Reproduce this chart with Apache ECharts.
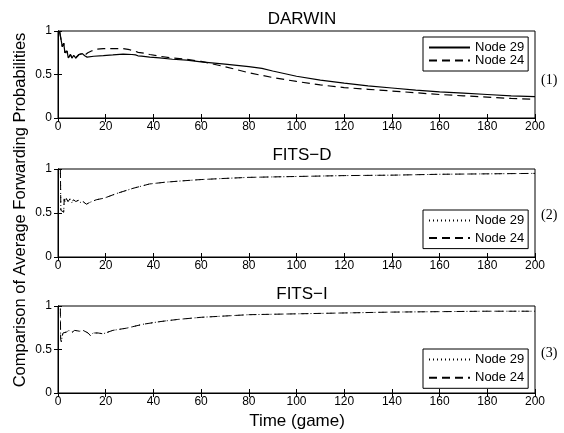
<!DOCTYPE html>
<html>
<head>
<meta charset="utf-8">
<script src="https://cdn.jsdelivr.net/npm/echarts@6/dist/echarts.min.js"></script>
<style>
  html, body { margin: 0; padding: 0; background: #fff; }
  #main { width: 564px; height: 433px; }
</style>
</head>
<body>
<div id="main"></div>
<script>
// values, [time, probability]
var darwinNode29 = [[0.7,0.99],[1.8,0.82],[2.4,0.86],[2.9,0.75],[3.8,0.77],[4.3,0.69],[5.2,0.73],[5.9,0.69],[6.6,0.72],[7.4,0.69],[8.8,0.73],[10.2,0.74],[11.2,0.715],[12.2,0.70],[15,0.71],[19,0.716],[23,0.725],[27.3,0.735],[31,0.73],[32.5,0.725],[33.5,0.715],[35,0.712],[38.5,0.70],[42.6,0.69],[48,0.675],[54,0.665],[60,0.645],[70,0.62],[80,0.59],[85.5,0.57],[90,0.54],[100,0.48],[110,0.435],[120,0.40],[130,0.37],[140,0.345],[150,0.32],[160,0.30],[170,0.285],[180,0.27],[190,0.255],[200,0.245]];
var darwinNode24 = [[0.7,0.99],[1.8,0.82],[2.4,0.86],[2.9,0.75],[3.8,0.77],[4.3,0.69],[5.2,0.73],[5.9,0.69],[6.6,0.72],[7.4,0.69],[8.8,0.73],[10.2,0.74],[11.2,0.72],[12.5,0.75],[14,0.77],[16,0.79],[19,0.797],[23,0.797],[27.3,0.797],[30,0.785],[32,0.77],[33.6,0.755],[36,0.745],[38.5,0.73],[42.6,0.71],[48,0.69],[54,0.675],[60,0.65],[70,0.59],[80,0.52],[90,0.465],[100,0.42],[110,0.38],[120,0.35],[130,0.33],[140,0.31],[150,0.29],[160,0.27],[170,0.255],[180,0.24],[190,0.225],[200,0.215]];
var fitsDNode29 = [[1,1.0],[1.2,0.53],[1.5,0.51],[2.4,0.51],[2.6,0.66],[3,0.62],[3.5,0.665],[4.2,0.63],[5,0.66],[5.8,0.62],[6.5,0.65],[7.5,0.63],[8.5,0.645],[9.3,0.62],[10.5,0.63],[11.9,0.60],[13.3,0.62],[16,0.65],[19.5,0.67],[24.4,0.72],[31.4,0.78],[38.4,0.83],[45,0.85],[52,0.865],[60,0.88],[70,0.893],[80,0.905],[100,0.915],[120,0.925],[140,0.93],[160,0.94],[180,0.945],[200,0.95]];
var fitsINode29 = [[1,0.97],[1.1,0.62],[1.4,0.59],[1.8,0.66],[2.1,0.69],[3.5,0.70],[4.6,0.72],[6,0.70],[7,0.72],[9.1,0.71],[10.5,0.72],[12.6,0.69],[13.6,0.66],[14.7,0.69],[16.8,0.69],[18.9,0.68],[23,0.72],[28.7,0.745],[35.6,0.79],[42.6,0.82],[50,0.845],[60,0.87],[70,0.885],[80,0.90],[100,0.91],[120,0.92],[140,0.93],[160,0.935],[180,0.94],[200,0.94]];
// the two FITS nodes lie on top of each other in the picture
var fitsDNode24 = fitsDNode29;
var fitsINode24 = fitsINode29;

var panelTitles = ['DARWIN', 'FITS\u2212D', 'FITS\u2212I'];
var panelTags = ['(1)', '(2)', '(3)'];
var xTicks = [0, 200, 20];
var yTicks = [0, 1, 0.5];

var font = 'Liberation Sans, Arial, sans-serif';
var grids = [
    {left: 58, top: 31, width: 477, height: 87},
    {left: 58, top: 169, width: 477, height: 88},
    {left: 58, top: 306, width: 477, height: 87}
];
var titleY = [6, 142, 281];
var tagY = [81, 216, 354];
var legendBox = [
    {top: 37, gap: 0},
    {top: 210, gap: 4.6},
    {top: 349, gap: 5.3}
];

function bottomX(i) {
    return {
        gridIndex: i, type: 'value', min: xTicks[0], max: xTicks[1], interval: xTicks[2],
        axisLine: {lineStyle: {color: '#000', width: 1}},
        axisTick: {inside: true, length: 4, lineStyle: {color: '#000'}},
        axisLabel: {color: '#000', fontSize: 12, fontFamily: font, margin: 3},
        splitLine: {show: false}
    };
}
function topX(i) {
    return {
        gridIndex: i, type: 'value', position: 'top', min: xTicks[0], max: xTicks[1], interval: xTicks[2],
        axisLine: {lineStyle: {color: '#000', width: 1}},
        axisTick: {inside: true, length: 4, lineStyle: {color: '#000'}},
        axisLabel: {show: false}, splitLine: {show: false}
    };
}
function leftY(i) {
    return {
        gridIndex: i, type: 'value', min: yTicks[0], max: yTicks[1], interval: yTicks[2],
        axisLine: {show: true, lineStyle: {color: '#000', width: 1}},
        axisTick: {show: true, inside: true, length: 4, lineStyle: {color: '#000'}},
        axisLabel: {color: '#000', fontSize: 12, fontFamily: font, margin: 6},
        splitLine: {show: false}
    };
}
function rightY(i) {
    return {
        gridIndex: i, type: 'value', position: 'right', min: yTicks[0], max: yTicks[1], interval: yTicks[2],
        axisLine: {show: true, lineStyle: {color: '#000', width: 1}},
        axisTick: {show: true, inside: true, length: 4, lineStyle: {color: '#000'}},
        axisLabel: {show: false}, splitLine: {show: false}
    };
}
function line(name, i, data, type, width) {
    return {
        name: name, type: 'line', xAxisIndex: i, yAxisIndex: i, data: data,
        symbol: 'none', animation: false, silent: true,
        lineStyle: {color: '#000', width: width, type: type},
        itemStyle: {color: '#000'}
    };
}
function legend(i, names) {
    return {
        orient: 'vertical', left: 423, top: legendBox[i].top,
        padding: [4, 4, 4, 5], itemWidth: 41, itemHeight: 12, itemGap: legendBox[i].gap,
        borderColor: '#000', borderWidth: 1, backgroundColor: '#fff',
        selectedMode: false, data: names,
        // only the line sample, no marker
        itemStyle: {opacity: 0},
        formatter: function (n) { return n.trim(); },
        textStyle: {color: '#000', fontSize: 13, fontFamily: font}
    };
}

var dash = [8, 5];
var dot = [1, 3];
var seriesList = [
    line('Node 29', 0, darwinNode29, 'solid', 1.2),
    line('Node 24', 0, darwinNode24, dash, 1.2),
    line('Node 29 ', 1, fitsDNode29, dot, 1),
    line('Node 24 ', 1, fitsDNode24, dash, 1),
    line('Node 29  ', 2, fitsINode29, dot, 1),
    line('Node 24  ', 2, fitsINode24, dash, 1)
];

var chart = echarts.init(document.getElementById('main'), null, {renderer: 'canvas'});
chart.setOption({
    animation: false,
    backgroundColor: '#fff',
    title: panelTitles.map(function (t, i) {
        return {text: t, left: 297, top: titleY[i], textAlign: 'center',
            textStyle: {fontSize: 17, fontWeight: 'normal', color: '#000', fontFamily: font}};
    }),
    grid: grids.map(function (g) {
        return {left: g.left, top: g.top, width: g.width, height: g.height,
            show: true, borderColor: '#000', borderWidth: 1, backgroundColor: '#fff'};
    }),
    xAxis: [bottomX(0), bottomX(1), bottomX(2), topX(0), topX(1), topX(2)],
    yAxis: [leftY(0), leftY(1), leftY(2), rightY(0), rightY(1), rightY(2)],
    legend: [
        legend(0, ['Node 29', 'Node 24']),
        legend(1, ['Node 29 ', 'Node 24 ']),
        legend(2, ['Node 29  ', 'Node 24  '])
    ],
    graphic: panelTags.map(function (t, i) {
        return {type: 'text', left: 541, top: tagY[i] - 8,
            style: {text: t, fontSize: 14, fontFamily: 'Liberation Serif, Times New Roman, serif', fill: '#000'}};
    }).concat([
        {type: 'text', x: 297, y: 421,
            style: {text: 'Time (game)', fontSize: 17, fontFamily: font, fill: '#000',
                align: 'center', verticalAlign: 'middle'}},
        {type: 'text', x: 20, y: 210, rotation: Math.PI / 2,
            style: {text: 'Comparison of Average Forwarding Probabilities', fontSize: 16.5,
                fontFamily: font, fill: '#000', align: 'center', verticalAlign: 'middle'}}
    ]),
    series: seriesList
});
</script>
</body>
</html>
